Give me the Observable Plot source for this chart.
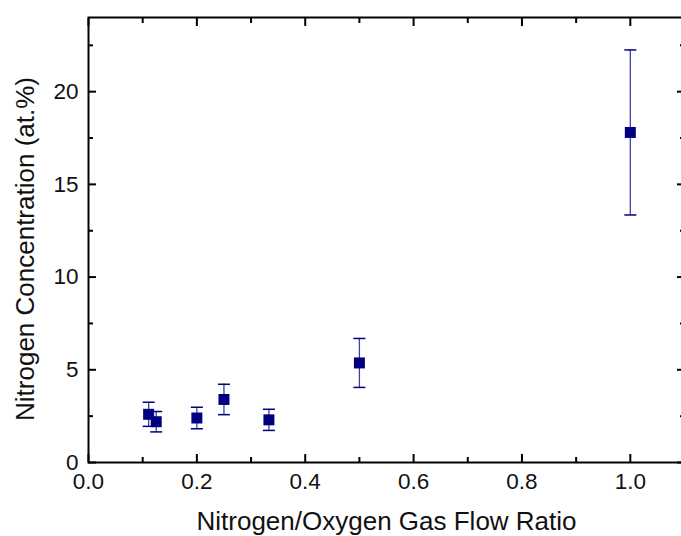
<!DOCTYPE html>
<html>
<head>
<meta charset="utf-8">
<script src="https://cdn.jsdelivr.net/npm/d3@7"></script>
<script src="https://cdn.jsdelivr.net/npm/@observablehq/plot@0.6"></script>
<style>
  html, body { margin: 0; padding: 0; background: #fff; overflow: hidden; }
  #chart svg { display: block; }
</style>
</head>
<body>
<div id="chart"></div>
<script>
// Data
const flowRatio = [0.111, 0.125, 0.2, 0.25, 0.333, 0.5, 1.0];
const nConcentration = [2.6, 2.2, 2.4, 3.4, 2.3, 5.37, 17.8];
const nError = [0.65, 0.55, 0.58, 0.82, 0.57, 1.32, 4.45];

const xMajorTicks = [0, 0.2, 0.4, 0.6, 0.8, 1.0];
const xMinorTicks = [0.1, 0.3, 0.5, 0.7, 0.9];
const yMajorTicks = [0, 5, 10, 15, 20];
const yMinorTicks = [2.5, 7.5, 12.5, 17.5, 22.5];

const xTitle = "Nitrogen/Oxygen Gas Flow Ratio";
const yTitle = "Nitrogen Concentration (at.%)";

const data = flowRatio.map((x, i) => ({
  x, y: nConcentration[i], lo: nConcentration[i] - nError[i], hi: nConcentration[i] + nError[i]
}));

const navy = "#000080";
const capSymbol = {
  draw(context) {
    context.moveTo(-6, 0);
    context.lineTo(6, 0);
  }
};
const noText = () => "";
const fs = 22.5;
const titleFs = 26;

const chart = Plot.plot({
  width: 681,
  height: 536,
  marginLeft: 88,
  marginRight: -3,
  marginTop: 17,
  marginBottom: 74,
  style: { fontFamily: "'Liberation Sans', Arial, sans-serif", background: "#fff" },
  x: { domain: [0, 1.1] },
  y: { domain: [0, 24] },
  marks: [
    // inward ticks on all four sides
    Plot.axisX({ anchor: "bottom", ticks: xMajorTicks, tickSize: -8, strokeWidth: 2, tickFormat: noText, label: null }),
    Plot.axisX({ anchor: "bottom", ticks: xMinorTicks, tickSize: -5, strokeWidth: 2, tickFormat: noText, label: null }),
    Plot.axisX({ anchor: "top", ticks: xMajorTicks, tickSize: -8, strokeWidth: 2, tickFormat: noText, label: null }),
    Plot.axisX({ anchor: "top", ticks: xMinorTicks, tickSize: -5, strokeWidth: 2, tickFormat: noText, label: null }),
    Plot.axisY({ anchor: "left", ticks: yMajorTicks, tickSize: -8, strokeWidth: 2, tickFormat: noText, label: null }),
    Plot.axisY({ anchor: "left", ticks: yMinorTicks, tickSize: -5, strokeWidth: 2, tickFormat: noText, label: null }),
    Plot.axisY({ anchor: "right", ticks: yMajorTicks, tickSize: -8, strokeWidth: 2, tickFormat: noText, label: null }),
    Plot.axisY({ anchor: "right", ticks: yMinorTicks, tickSize: -5, strokeWidth: 2, tickFormat: noText, label: null }),
    // tick labels
    Plot.axisX({ anchor: "bottom", ticks: xMajorTicks, tickSize: 0, tickPadding: 11, tickFormat: d3.format(".1f"), fontSize: fs, fill: "#111", label: null }),
    Plot.axisY({ anchor: "left", ticks: yMajorTicks, tickSize: 0, tickPadding: 10, tickFormat: d3.format("d"), fontSize: fs, fill: "#111", label: null }),
    Plot.frame({ stroke: "black", strokeWidth: 2 }),
    // error bars
    Plot.ruleX(data, { x: "x", y1: "lo", y2: "hi", stroke: navy, strokeWidth: 1.3, strokeOpacity: 0.75 }),
    Plot.dot(data, { x: "x", y: "hi", symbol: capSymbol, r: 6, stroke: navy, strokeWidth: 1.5, fill: "none" }),
    Plot.dot(data, { x: "x", y: "lo", symbol: capSymbol, r: 6, stroke: navy, strokeWidth: 1.5, fill: "none" }),
    // squares
    Plot.dot(data, { x: "x", y: "y", symbol: "square", r: 6.2, fill: navy, stroke: "none" }),
    // axis titles
    Plot.text([xTitle], { frameAnchor: "bottom", textAnchor: "middle", dx: 0, dy: 59, fontSize: titleFs, fill: "#111", lineAnchor: "middle" }),
    Plot.text([yTitle], { frameAnchor: "left", textAnchor: "middle", dx: -63, dy: 9, rotate: -90, fontSize: titleFs, fill: "#111", lineAnchor: "middle" })
  ]
});

document.getElementById("chart").appendChild(chart);
</script>
</body>
</html>
